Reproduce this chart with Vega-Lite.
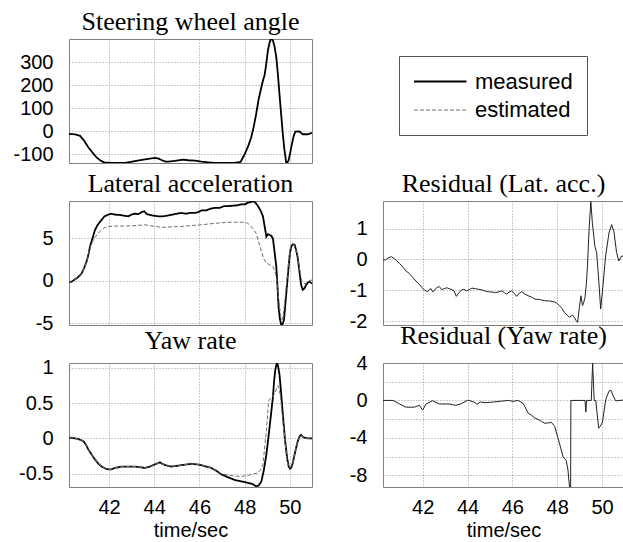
{
  "$schema": "https://vega.github.io/schema/vega-lite/v6.json",
  "padding": {"left": 12, "top": 8, "right": 0, "bottom": 0},
  "background": "white",
  "bounds": "flush",
  "columns": 2,
  "spacing": {"row": 38, "column": 71},
  "datasets": {
    "steer": [
      {"t":40.23,"v":-10,"s":"measured"},{"t":40.5,"v":-13,"s":"measured"},{"t":40.72,"v":-19,"s":"measured"},{"t":40.9,"v":-40,"s":"measured"},{"t":41.09,"v":-70,"s":"measured"},{"t":41.3,"v":-95,"s":"measured"},{"t":41.46,"v":-114,"s":"measured"},{"t":41.65,"v":-128,"s":"measured"},{"t":41.82,"v":-136,"s":"measured"},{"t":42.2,"v":-137,"s":"measured"},{"t":42.7,"v":-137,"s":"measured"},{"t":42.85,"v":-134,"s":"measured"},{"t":43.2,"v":-128,"s":"measured"},{"t":43.59,"v":-121,"s":"measured"},{"t":44.03,"v":-115,"s":"measured"},{"t":44.2,"v":-118,"s":"measured"},{"t":44.32,"v":-124,"s":"measured"},{"t":44.5,"v":-131,"s":"measured"},{"t":44.62,"v":-131,"s":"measured"},{"t":44.91,"v":-128,"s":"measured"},{"t":45.28,"v":-122,"s":"measured"},{"t":45.5,"v":-125,"s":"measured"},{"t":45.8,"v":-127,"s":"measured"},{"t":46.09,"v":-131,"s":"measured"},{"t":46.4,"v":-134,"s":"measured"},{"t":46.68,"v":-137,"s":"measured"},{"t":47.2,"v":-137,"s":"measured"},{"t":47.56,"v":-137,"s":"measured"},{"t":47.82,"v":-132,"s":"measured"},{"t":48.0,"v":-99,"s":"measured"},{"t":48.15,"v":-65,"s":"measured"},{"t":48.29,"v":-26,"s":"measured"},{"t":48.4,"v":20,"s":"measured"},{"t":48.51,"v":76,"s":"measured"},{"t":48.62,"v":140,"s":"measured"},{"t":48.74,"v":192,"s":"measured"},{"t":48.82,"v":225,"s":"measured"},{"t":48.88,"v":243,"s":"measured"},{"t":48.95,"v":290,"s":"measured"},{"t":49.03,"v":352,"s":"measured"},{"t":49.1,"v":385,"s":"measured"},{"t":49.15,"v":400,"s":"measured"},{"t":49.2,"v":402,"s":"measured"},{"t":49.25,"v":396,"s":"measured"},{"t":49.32,"v":370,"s":"measured"},{"t":49.4,"v":323,"s":"measured"},{"t":49.47,"v":250,"s":"measured"},{"t":49.54,"v":163,"s":"measured"},{"t":49.62,"v":70,"s":"measured"},{"t":49.69,"v":-12,"s":"measured"},{"t":49.76,"v":-80,"s":"measured"},{"t":49.84,"v":-135,"s":"measured"},{"t":49.9,"v":-133,"s":"measured"},{"t":49.94,"v":-128,"s":"measured"},{"t":50.0,"v":-100,"s":"measured"},{"t":50.09,"v":-55,"s":"measured"},{"t":50.17,"v":-20,"s":"measured"},{"t":50.24,"v":-1,"s":"measured"},{"t":50.43,"v":0,"s":"measured"},{"t":50.5,"v":-6,"s":"measured"},{"t":50.57,"v":-12,"s":"measured"},{"t":50.79,"v":-12,"s":"measured"},{"t":50.98,"v":-6,"s":"measured"}
    ],
    "lat": [
      {"t":40.23,"v":-0.1,"s":"measured"},{"t":40.31,"v":-0.16,"s":"measured"},{"t":40.45,"v":0.1,"s":"measured"},{"t":40.57,"v":0.3,"s":"measured"},{"t":40.7,"v":0.6,"s":"measured"},{"t":40.79,"v":0.9,"s":"measured"},{"t":40.9,"v":1.5,"s":"measured"},{"t":41.01,"v":2.3,"s":"measured"},{"t":41.1,"v":3.2,"s":"measured"},{"t":41.16,"v":4.05,"s":"measured"},{"t":41.27,"v":5.0,"s":"measured"},{"t":41.38,"v":6.0,"s":"measured"},{"t":41.5,"v":6.6,"s":"measured"},{"t":41.68,"v":7.2,"s":"measured"},{"t":41.8,"v":7.6,"s":"measured"},{"t":41.97,"v":7.8,"s":"measured"},{"t":42.1,"v":7.9,"s":"measured"},{"t":42.26,"v":7.8,"s":"measured"},{"t":42.5,"v":7.75,"s":"measured"},{"t":42.7,"v":7.65,"s":"measured"},{"t":42.85,"v":7.6,"s":"measured"},{"t":43.0,"v":7.8,"s":"measured"},{"t":43.15,"v":7.9,"s":"measured"},{"t":43.3,"v":7.85,"s":"measured"},{"t":43.45,"v":8.1,"s":"measured"},{"t":43.56,"v":8.2,"s":"measured"},{"t":43.65,"v":7.9,"s":"measured"},{"t":43.74,"v":7.8,"s":"measured"},{"t":43.9,"v":7.7,"s":"measured"},{"t":44.18,"v":7.6,"s":"measured"},{"t":44.4,"v":7.6,"s":"measured"},{"t":44.62,"v":7.7,"s":"measured"},{"t":44.9,"v":7.85,"s":"measured"},{"t":45.2,"v":8.0,"s":"measured"},{"t":45.4,"v":7.9,"s":"measured"},{"t":45.6,"v":8.0,"s":"measured"},{"t":45.8,"v":8.0,"s":"measured"},{"t":45.95,"v":8.1,"s":"measured"},{"t":46.09,"v":8.3,"s":"measured"},{"t":46.3,"v":8.3,"s":"measured"},{"t":46.5,"v":8.5,"s":"measured"},{"t":46.68,"v":8.6,"s":"measured"},{"t":46.9,"v":8.6,"s":"measured"},{"t":47.1,"v":8.8,"s":"measured"},{"t":47.26,"v":8.8,"s":"measured"},{"t":47.5,"v":8.85,"s":"measured"},{"t":47.7,"v":8.9,"s":"measured"},{"t":47.85,"v":9.0,"s":"measured"},{"t":48.0,"v":9.0,"s":"measured"},{"t":48.15,"v":9.2,"s":"measured"},{"t":48.3,"v":9.3,"s":"measured"},{"t":48.37,"v":9.4,"s":"measured"},{"t":48.48,"v":9.2,"s":"measured"},{"t":48.59,"v":8.8,"s":"measured"},{"t":48.7,"v":8.3,"s":"measured"},{"t":48.81,"v":7.6,"s":"measured"},{"t":48.88,"v":6.5,"s":"measured"},{"t":48.96,"v":5.2,"s":"measured"},{"t":49.03,"v":5.5,"s":"measured"},{"t":49.1,"v":5.4,"s":"measured"},{"t":49.18,"v":5.3,"s":"measured"},{"t":49.25,"v":5.0,"s":"measured"},{"t":49.32,"v":3.5,"s":"measured"},{"t":49.4,"v":1.7,"s":"measured"},{"t":49.45,"v":-0.5,"s":"measured"},{"t":49.5,"v":-3.0,"s":"measured"},{"t":49.56,"v":-4.5,"s":"measured"},{"t":49.62,"v":-5.2,"s":"measured"},{"t":49.68,"v":-5.1,"s":"measured"},{"t":49.74,"v":-4.6,"s":"measured"},{"t":49.8,"v":-2.8,"s":"measured"},{"t":49.88,"v":-0.3,"s":"measured"},{"t":49.95,"v":1.8,"s":"measured"},{"t":50.0,"v":3.2,"s":"measured"},{"t":50.06,"v":4.05,"s":"measured"},{"t":50.13,"v":4.3,"s":"measured"},{"t":50.21,"v":4.25,"s":"measured"},{"t":50.28,"v":3.6,"s":"measured"},{"t":50.35,"v":2.7,"s":"measured"},{"t":50.43,"v":1.0,"s":"measured"},{"t":50.5,"v":-0.5,"s":"measured"},{"t":50.57,"v":-1.06,"s":"measured"},{"t":50.64,"v":-0.9,"s":"measured"},{"t":50.72,"v":-0.5,"s":"measured"},{"t":50.8,"v":-0.2,"s":"measured"},{"t":50.87,"v":-0.1,"s":"measured"},{"t":50.98,"v":-0.3,"s":"measured"},
      {"t":40.23,"v":-0.1,"s":"estimated"},{"t":40.31,"v":-0.16,"s":"estimated"},{"t":40.45,"v":0.1,"s":"estimated"},{"t":40.57,"v":0.3,"s":"estimated"},{"t":40.7,"v":0.6,"s":"estimated"},{"t":40.79,"v":0.9,"s":"estimated"},{"t":40.9,"v":1.5,"s":"estimated"},{"t":41.01,"v":2.3,"s":"estimated"},{"t":41.1,"v":3.2,"s":"estimated"},{"t":41.16,"v":3.9,"s":"estimated"},{"t":41.24,"v":4.45,"s":"estimated"},{"t":41.35,"v":5.0,"s":"estimated"},{"t":41.46,"v":5.4,"s":"estimated"},{"t":41.57,"v":5.75,"s":"estimated"},{"t":41.68,"v":6.0,"s":"estimated"},{"t":41.8,"v":6.25,"s":"estimated"},{"t":41.97,"v":6.4,"s":"estimated"},{"t":42.3,"v":6.45,"s":"estimated"},{"t":42.7,"v":6.45,"s":"estimated"},{"t":43.15,"v":6.5,"s":"estimated"},{"t":43.59,"v":6.6,"s":"estimated"},{"t":43.9,"v":6.45,"s":"estimated"},{"t":44.32,"v":6.3,"s":"estimated"},{"t":44.7,"v":6.35,"s":"estimated"},{"t":45.2,"v":6.4,"s":"estimated"},{"t":45.6,"v":6.5,"s":"estimated"},{"t":46.09,"v":6.6,"s":"estimated"},{"t":46.6,"v":6.75,"s":"estimated"},{"t":47.26,"v":6.9,"s":"estimated"},{"t":47.7,"v":6.9,"s":"estimated"},{"t":48.0,"v":6.9,"s":"estimated"},{"t":48.12,"v":6.8,"s":"estimated"},{"t":48.22,"v":6.6,"s":"estimated"},{"t":48.35,"v":6.2,"s":"estimated"},{"t":48.51,"v":5.6,"s":"estimated"},{"t":48.62,"v":4.6,"s":"estimated"},{"t":48.74,"v":3.5,"s":"estimated"},{"t":48.85,"v":2.6,"s":"estimated"},{"t":48.96,"v":2.1,"s":"estimated"},{"t":49.1,"v":1.9,"s":"estimated"},{"t":49.25,"v":1.7,"s":"estimated"},{"t":49.33,"v":1.2,"s":"estimated"},{"t":49.4,"v":0.5,"s":"estimated"},{"t":49.47,"v":-1.2,"s":"estimated"},{"t":49.54,"v":-3.0,"s":"estimated"},{"t":49.6,"v":-4.2,"s":"estimated"},{"t":49.66,"v":-4.6,"s":"estimated"},{"t":49.72,"v":-3.8,"s":"estimated"},{"t":49.78,"v":-2.3,"s":"estimated"},{"t":49.84,"v":-0.7,"s":"estimated"},{"t":49.93,"v":1.8,"s":"estimated"},{"t":50.03,"v":4.05,"s":"estimated"},{"t":50.1,"v":4.3,"s":"estimated"},{"t":50.18,"v":4.25,"s":"estimated"},{"t":50.26,"v":3.7,"s":"estimated"},{"t":50.35,"v":2.9,"s":"estimated"},{"t":50.45,"v":1.0,"s":"estimated"},{"t":50.54,"v":-0.1,"s":"estimated"},{"t":50.62,"v":-0.35,"s":"estimated"},{"t":50.72,"v":-0.3,"s":"estimated"},{"t":50.85,"v":0.0,"s":"estimated"},{"t":50.98,"v":0.1,"s":"estimated"}
    ],
    "yaw": [
      {"t":40.23,"v":0.0,"s":"measured"},{"t":40.31,"v":0.01,"s":"measured"},{"t":40.5,"v":0.0,"s":"measured"},{"t":40.65,"v":-0.01,"s":"measured"},{"t":40.87,"v":-0.04,"s":"measured"},{"t":40.98,"v":-0.09,"s":"measured"},{"t":41.09,"v":-0.16,"s":"measured"},{"t":41.23,"v":-0.23,"s":"measured"},{"t":41.38,"v":-0.3,"s":"measured"},{"t":41.53,"v":-0.36,"s":"measured"},{"t":41.68,"v":-0.4,"s":"measured"},{"t":41.85,"v":-0.43,"s":"measured"},{"t":41.97,"v":-0.44,"s":"measured"},{"t":42.1,"v":-0.44,"s":"measured"},{"t":42.26,"v":-0.42,"s":"measured"},{"t":42.56,"v":-0.4,"s":"measured"},{"t":42.9,"v":-0.4,"s":"measured"},{"t":43.15,"v":-0.4,"s":"measured"},{"t":43.4,"v":-0.41,"s":"measured"},{"t":43.59,"v":-0.42,"s":"measured"},{"t":43.8,"v":-0.4,"s":"measured"},{"t":44.03,"v":-0.37,"s":"measured"},{"t":44.25,"v":-0.34,"s":"measured"},{"t":44.47,"v":-0.38,"s":"measured"},{"t":44.76,"v":-0.4,"s":"measured"},{"t":45.0,"v":-0.39,"s":"measured"},{"t":45.2,"v":-0.38,"s":"measured"},{"t":45.45,"v":-0.37,"s":"measured"},{"t":45.65,"v":-0.36,"s":"measured"},{"t":45.9,"v":-0.37,"s":"measured"},{"t":46.09,"v":-0.38,"s":"measured"},{"t":46.3,"v":-0.4,"s":"measured"},{"t":46.53,"v":-0.42,"s":"measured"},{"t":46.75,"v":-0.46,"s":"measured"},{"t":46.97,"v":-0.51,"s":"measured"},{"t":47.25,"v":-0.55,"s":"measured"},{"t":47.56,"v":-0.59,"s":"measured"},{"t":47.85,"v":-0.61,"s":"measured"},{"t":48.15,"v":-0.63,"s":"measured"},{"t":48.35,"v":-0.65,"s":"measured"},{"t":48.51,"v":-0.68,"s":"measured"},{"t":48.62,"v":-0.67,"s":"measured"},{"t":48.74,"v":-0.61,"s":"measured"},{"t":48.85,"v":-0.45,"s":"measured"},{"t":48.96,"v":-0.23,"s":"measured"},{"t":49.03,"v":-0.05,"s":"measured"},{"t":49.1,"v":0.15,"s":"measured"},{"t":49.18,"v":0.38,"s":"measured"},{"t":49.25,"v":0.58,"s":"measured"},{"t":49.3,"v":0.8,"s":"measured"},{"t":49.35,"v":0.96,"s":"measured"},{"t":49.4,"v":1.04,"s":"measured"},{"t":49.44,"v":1.07,"s":"measured"},{"t":49.48,"v":1.02,"s":"measured"},{"t":49.54,"v":0.91,"s":"measured"},{"t":49.6,"v":0.7,"s":"measured"},{"t":49.69,"v":0.34,"s":"measured"},{"t":49.78,"v":0.0,"s":"measured"},{"t":49.88,"v":-0.28,"s":"measured"},{"t":49.95,"v":-0.4,"s":"measured"},{"t":50.01,"v":-0.43,"s":"measured"},{"t":50.07,"v":-0.41,"s":"measured"},{"t":50.13,"v":-0.35,"s":"measured"},{"t":50.25,"v":-0.17,"s":"measured"},{"t":50.35,"v":-0.04,"s":"measured"},{"t":50.43,"v":0.03,"s":"measured"},{"t":50.5,"v":0.05,"s":"measured"},{"t":50.58,"v":0.02,"s":"measured"},{"t":50.65,"v":0.01,"s":"measured"},{"t":50.8,"v":0.0,"s":"measured"},{"t":50.98,"v":0.0,"s":"measured"},
      {"t":40.23,"v":0.0,"s":"estimated"},{"t":40.31,"v":0.01,"s":"estimated"},{"t":40.5,"v":0.0,"s":"estimated"},{"t":40.65,"v":-0.01,"s":"estimated"},{"t":40.87,"v":-0.04,"s":"estimated"},{"t":40.98,"v":-0.09,"s":"estimated"},{"t":41.09,"v":-0.16,"s":"estimated"},{"t":41.23,"v":-0.23,"s":"estimated"},{"t":41.38,"v":-0.3,"s":"estimated"},{"t":41.53,"v":-0.36,"s":"estimated"},{"t":41.68,"v":-0.4,"s":"estimated"},{"t":41.85,"v":-0.43,"s":"estimated"},{"t":41.97,"v":-0.44,"s":"estimated"},{"t":42.1,"v":-0.44,"s":"estimated"},{"t":42.26,"v":-0.42,"s":"estimated"},{"t":42.56,"v":-0.4,"s":"estimated"},{"t":42.9,"v":-0.4,"s":"estimated"},{"t":43.15,"v":-0.4,"s":"estimated"},{"t":43.4,"v":-0.41,"s":"estimated"},{"t":43.59,"v":-0.42,"s":"estimated"},{"t":43.8,"v":-0.4,"s":"estimated"},{"t":44.03,"v":-0.37,"s":"estimated"},{"t":44.25,"v":-0.34,"s":"estimated"},{"t":44.47,"v":-0.38,"s":"estimated"},{"t":44.76,"v":-0.4,"s":"estimated"},{"t":45.0,"v":-0.39,"s":"estimated"},{"t":45.2,"v":-0.38,"s":"estimated"},{"t":45.45,"v":-0.37,"s":"estimated"},{"t":45.65,"v":-0.36,"s":"estimated"},{"t":45.9,"v":-0.37,"s":"estimated"},{"t":46.09,"v":-0.38,"s":"estimated"},{"t":46.3,"v":-0.4,"s":"estimated"},{"t":46.53,"v":-0.42,"s":"estimated"},{"t":46.75,"v":-0.46,"s":"estimated"},{"t":46.97,"v":-0.5,"s":"estimated"},{"t":47.26,"v":-0.52,"s":"estimated"},{"t":47.56,"v":-0.535,"s":"estimated"},{"t":47.85,"v":-0.54,"s":"estimated"},{"t":48.1,"v":-0.53,"s":"estimated"},{"t":48.29,"v":-0.51,"s":"estimated"},{"t":48.45,"v":-0.5,"s":"estimated"},{"t":48.59,"v":-0.49,"s":"estimated"},{"t":48.7,"v":-0.45,"s":"estimated"},{"t":48.81,"v":-0.37,"s":"estimated"},{"t":48.88,"v":-0.15,"s":"estimated"},{"t":48.96,"v":0.1,"s":"estimated"},{"t":49.02,"v":0.35,"s":"estimated"},{"t":49.06,"v":0.53,"s":"estimated"},{"t":49.14,"v":0.57,"s":"estimated"},{"t":49.21,"v":0.58,"s":"estimated"},{"t":49.32,"v":0.63,"s":"estimated"},{"t":49.4,"v":0.7,"s":"estimated"},{"t":49.47,"v":0.75,"s":"estimated"},{"t":49.53,"v":0.7,"s":"estimated"},{"t":49.59,"v":0.58,"s":"estimated"},{"t":49.66,"v":0.35,"s":"estimated"},{"t":49.74,"v":0.1,"s":"estimated"},{"t":49.81,"v":-0.12,"s":"estimated"},{"t":49.88,"v":-0.32,"s":"estimated"},{"t":49.94,"v":-0.4,"s":"estimated"},{"t":49.99,"v":-0.42,"s":"estimated"},{"t":50.06,"v":-0.4,"s":"estimated"},{"t":50.13,"v":-0.35,"s":"estimated"},{"t":50.25,"v":-0.17,"s":"estimated"},{"t":50.35,"v":-0.04,"s":"estimated"},{"t":50.43,"v":0.03,"s":"estimated"},{"t":50.5,"v":0.05,"s":"estimated"},{"t":50.58,"v":0.02,"s":"estimated"},{"t":50.65,"v":0.01,"s":"estimated"},{"t":50.8,"v":0.0,"s":"estimated"},{"t":50.98,"v":0.0,"s":"estimated"}
    ],
    "rlat": [
      {"t":40.23,"v":0.0},{"t":40.34,"v":-0.02},{"t":40.46,"v":0.05},{"t":40.6,"v":0.09},{"t":40.75,"v":0.02},{"t":40.97,"v":-0.13},{"t":41.12,"v":-0.25},{"t":41.26,"v":-0.38},{"t":41.4,"v":-0.45},{"t":41.56,"v":-0.59},{"t":41.7,"v":-0.7},{"t":41.85,"v":-0.81},{"t":41.95,"v":-0.9},{"t":42.07,"v":-0.99},{"t":42.22,"v":-1.05},{"t":42.3,"v":-0.97},{"t":42.37,"v":-0.95},{"t":42.45,"v":-1.05},{"t":42.51,"v":-1.02},{"t":42.62,"v":-0.92},{"t":42.74,"v":-0.88},{"t":42.85,"v":-0.98},{"t":42.96,"v":-0.95},{"t":43.08,"v":-0.92},{"t":43.18,"v":-0.95},{"t":43.3,"v":-0.98},{"t":43.4,"v":-1.02},{"t":43.5,"v":-1.2},{"t":43.62,"v":-1.08},{"t":43.72,"v":-1.0},{"t":43.84,"v":-0.97},{"t":43.95,"v":-1.02},{"t":44.06,"v":-0.99},{"t":44.2,"v":-0.93},{"t":44.35,"v":-0.95},{"t":44.5,"v":-0.97},{"t":44.65,"v":-0.99},{"t":44.8,"v":-1.03},{"t":44.94,"v":-1.05},{"t":45.1,"v":-1.06},{"t":45.24,"v":-1.08},{"t":45.4,"v":-1.05},{"t":45.53,"v":-1.02},{"t":45.65,"v":-1.08},{"t":45.75,"v":-1.13},{"t":45.85,"v":-1.06},{"t":45.97,"v":-1.02},{"t":46.08,"v":-1.1},{"t":46.19,"v":-1.2},{"t":46.3,"v":-1.1},{"t":46.41,"v":-1.05},{"t":46.55,"v":-1.12},{"t":46.71,"v":-1.18},{"t":46.85,"v":-1.22},{"t":47.0,"v":-1.29},{"t":47.2,"v":-1.3},{"t":47.44,"v":-1.34},{"t":47.65,"v":-1.35},{"t":47.88,"v":-1.38},{"t":48.0,"v":-1.43},{"t":48.1,"v":-1.5},{"t":48.22,"v":-1.6},{"t":48.32,"v":-1.72},{"t":48.44,"v":-1.8},{"t":48.54,"v":-1.88},{"t":48.62,"v":-1.84},{"t":48.69,"v":-1.81},{"t":48.78,"v":-1.9},{"t":48.84,"v":-1.99},{"t":48.91,"v":-2.04},{"t":48.99,"v":-1.56},{"t":49.06,"v":-1.18},{"t":49.13,"v":-1.5},{"t":49.18,"v":-1.4},{"t":49.24,"v":-1.24},{"t":49.3,"v":-0.8},{"t":49.35,"v":-0.22},{"t":49.43,"v":1.08},{"t":49.5,"v":1.88},{"t":49.57,"v":1.18},{"t":49.68,"v":0.43},{"t":49.76,"v":0.22},{"t":49.84,"v":-0.54},{"t":49.94,"v":-1.61},{"t":50.04,"v":-0.86},{"t":50.16,"v":0.11},{"t":50.31,"v":0.86},{"t":50.43,"v":1.13},{"t":50.53,"v":0.91},{"t":50.65,"v":0.22},{"t":50.75,"v":-0.05},{"t":50.87,"v":0.11},{"t":50.98,"v":0.1}
    ],
    "ryaw": [
      {"t":40.23,"v":0.0},{"t":40.68,"v":0.0},{"t":40.97,"v":-0.38},{"t":41.26,"v":-0.72},{"t":41.63,"v":-0.72},{"t":41.85,"v":-0.52},{"t":42.0,"v":-1.03},{"t":42.15,"v":-0.38},{"t":42.44,"v":-0.03},{"t":42.74,"v":-0.38},{"t":43.18,"v":-0.38},{"t":43.47,"v":-0.52},{"t":43.69,"v":-0.38},{"t":43.99,"v":0.0},{"t":44.06,"v":0.0},{"t":44.28,"v":-0.17},{"t":44.43,"v":-0.41},{"t":44.57,"v":-0.17},{"t":44.79,"v":-0.24},{"t":45.16,"v":-0.17},{"t":45.53,"v":-0.07},{"t":45.82,"v":0.0},{"t":46.04,"v":-0.1},{"t":46.26,"v":0.0},{"t":46.49,"v":-0.34},{"t":46.71,"v":-1.37},{"t":46.86,"v":-1.59},{"t":47.0,"v":-1.88},{"t":47.15,"v":-2.03},{"t":47.29,"v":-2.22},{"t":47.44,"v":-2.44},{"t":47.6,"v":-2.4},{"t":47.74,"v":-2.34},{"t":47.89,"v":-2.78},{"t":48.03,"v":-3.99},{"t":48.15,"v":-5.0},{"t":48.26,"v":-6.05},{"t":48.4,"v":-6.4},{"t":48.48,"v":-7.42},{"t":48.55,"v":-9.25},{"t":48.6,"v":-9.25},{"t":48.61,"v":0.0},{"t":49.24,"v":0.0},{"t":49.28,"v":-1.24},{"t":49.31,"v":0.0},{"t":49.52,"v":0.0},{"t":49.58,"v":4.0},{"t":49.65,"v":0.0},{"t":49.72,"v":0.0},{"t":49.85,"v":-2.96},{"t":49.92,"v":-2.8},{"t":50.02,"v":-2.3},{"t":50.17,"v":0.13},{"t":50.31,"v":1.0},{"t":50.39,"v":1.1},{"t":50.5,"v":0.47},{"t":50.61,"v":-0.04},{"t":50.8,"v":0.0},{"t":50.98,"v":0.05}
    ]
  },
  "concat": [
    {
      "title": "Steering wheel angle",
      "width": 243,
      "height": 124,
      "data": {"name": "steer"},
      "mark": {"type": "line", "clip": true, "color": "#000000", "strokeWidth": 1.8},
      "encoding": {
        "x": {"field": "t", "type": "quantitative", "scale": {"domain": [40.23, 50.98], "nice": false, "zero": false}, "axis": {"values": [42, 44, 46, 48, 50], "labels": false, "title": null}},
        "y": {"field": "v", "type": "quantitative", "scale": {"domain": [-137, 402], "nice": false, "zero": false}, "axis": {"values": [-100, 0, 100, 200, 300], "labelExpr": "toString(datum.value)", "title": null}}
      }
    },
    {
      "width": 241,
      "height": 124,
      "data": {"name": "yaw"},
      "transform": [{"filter": "datum.t > 1000"}],
      "mark": {"type": "line", "clip": true},
      "view": {"stroke": null},
      "encoding": {
        "x": {"field": "t", "type": "quantitative", "scale": {"domain": [40.23, 50.98]}, "axis": null},
        "y": {"field": "v", "type": "quantitative", "scale": {"domain": [0, 1]}, "axis": null},
        "color": {"field": "s", "type": "nominal", "scale": {"domain": ["measured", "estimated"], "range": ["#000000", "#707070"]},
          "legend": {"orient": "none", "legendX": 16, "legendY": 17, "title": null, "symbolType": "M-1,0H4", "symbolSize": 441, "labelFont": "Liberation Sans", "labelFontSize": 22, "labelColor": "#000", "labelOffset": 39, "padding": 14, "rowPadding": 6, "strokeColor": "#555", "fillColor": "white"}},
        "strokeDash": {"field": "s", "type": "nominal", "scale": {"domain": ["measured", "estimated"], "range": [[1, 0], [4, 2]]},
          "legend": {"orient": "none", "legendX": 16, "legendY": 17, "title": null, "symbolType": "M-1,0H4", "symbolSize": 441, "labelFont": "Liberation Sans", "labelFontSize": 22, "labelColor": "#000", "labelOffset": 39, "padding": 14, "rowPadding": 6, "strokeColor": "#555", "fillColor": "white"}},
        "strokeWidth": {"field": "s", "type": "nominal", "scale": {"domain": ["measured", "estimated"], "range": [1.8, 1]},
          "legend": {"orient": "none", "legendX": 16, "legendY": 17, "title": null, "symbolType": "M-1,0H4", "symbolSize": 441, "labelFont": "Liberation Sans", "labelFontSize": 22, "labelColor": "#000", "labelOffset": 39, "padding": 14, "rowPadding": 6, "strokeColor": "#555", "fillColor": "white"}}
      }
    },
    {
      "title": "Lateral acceleration",
      "width": 243,
      "height": 124,
      "data": {"name": "lat"},
      "mark": {"type": "line", "clip": true},
      "encoding": {
        "x": {"field": "t", "type": "quantitative", "scale": {"domain": [40.23, 50.98], "nice": false, "zero": false}, "axis": {"values": [42, 44, 46, 48, 50], "labels": false, "title": null}},
        "y": {"field": "v", "type": "quantitative", "scale": {"domain": [-5.2, 9.4], "nice": false, "zero": false}, "axis": {"values": [-5, 0, 5], "labelExpr": "toString(datum.value)", "title": null}},
        "color": {"field": "s", "type": "nominal", "scale": {"domain": ["measured", "estimated"], "range": ["#000000", "#707070"]}, "legend": null},
        "strokeDash": {"field": "s", "type": "nominal", "scale": {"domain": ["measured", "estimated"], "range": [[1, 0], [4, 2]]}, "legend": null},
        "strokeWidth": {"field": "s", "type": "nominal", "scale": {"domain": ["measured", "estimated"], "range": [1.8, 1]}, "legend": null}
      }
    },
    {
      "title": "Residual (Lat. acc.)",
      "width": 241,
      "height": 124,
      "data": {"name": "rlat"},
      "mark": {"type": "line", "clip": true, "color": "#222222", "strokeWidth": 1},
      "encoding": {
        "x": {"field": "t", "type": "quantitative", "scale": {"domain": [40.23, 50.98], "nice": false, "zero": false}, "axis": {"values": [42, 44, 46, 48, 50], "labels": false, "title": null}},
        "y": {"field": "v", "type": "quantitative", "scale": {"domain": [-2.13, 1.9], "nice": false, "zero": false}, "axis": {"values": [-2, -1, 0, 1], "labelExpr": "toString(datum.value)", "title": null}}
      }
    },
    {
      "title": "Yaw rate",
      "width": 243,
      "height": 124,
      "data": {"name": "yaw"},
      "mark": {"type": "line", "clip": true},
      "encoding": {
        "x": {"field": "t", "type": "quantitative", "scale": {"domain": [40.23, 50.98], "nice": false, "zero": false}, "axis": {"values": [42, 44, 46, 48, 50], "title": "time/sec", "labelPadding": 10, "titlePadding": 3}},
        "y": {"field": "v", "type": "quantitative", "scale": {"domain": [-0.69, 1.07], "nice": false, "zero": false}, "axis": {"values": [-0.5, 0, 0.5, 1], "labelExpr": "toString(datum.value)", "title": null}},
        "color": {"field": "s", "type": "nominal", "scale": {"domain": ["measured", "estimated"], "range": ["#000000", "#707070"]}, "legend": null},
        "strokeDash": {"field": "s", "type": "nominal", "scale": {"domain": ["measured", "estimated"], "range": [[1, 0], [4, 2]]}, "legend": null},
        "strokeWidth": {"field": "s", "type": "nominal", "scale": {"domain": ["measured", "estimated"], "range": [1.8, 1]}, "legend": null}
      }
    },
    {
      "title": "Residual (Yaw rate)",
      "width": 241,
      "height": 124,
      "data": {"name": "ryaw"},
      "mark": {"type": "line", "clip": true, "color": "#222222", "strokeWidth": 1},
      "encoding": {
        "x": {"field": "t", "type": "quantitative", "scale": {"domain": [40.23, 50.98], "nice": false, "zero": false}, "axis": {"values": [42, 44, 46, 48, 50], "title": "time/sec", "labelPadding": 10, "titlePadding": 3}},
        "y": {"field": "v", "type": "quantitative", "scale": {"domain": [-9.25, 4], "nice": false, "zero": false}, "axis": {"values": [-8, -6, -4, -2, 0, 2, 4], "labelExpr": "datum.value % 4 === 0 ? toString(datum.value) : ''", "title": null}}
      }
    }
  ],
  "resolve": {"legend": {"color": "independent", "strokeDash": "independent", "strokeWidth": "independent"}},
  "config": {
    "font": "Liberation Sans",
    "view": {"stroke": "#808080", "strokeWidth": 1},
    "axis": {"domain": false, "ticks": false, "labelFont": "Liberation Sans", "labelFontSize": 20, "labelColor": "#000000", "labelPadding": 16, "grid": true, "gridColor": "#999999", "gridDash": [1, 2], "gridWidth": 1, "gridOpacity": 1, "titleFont": "Liberation Sans", "titleFontSize": 20, "titleFontWeight": "normal", "titleColor": "#000000"},
    "title": {"font": "Liberation Serif", "fontSize": 26, "fontWeight": "normal", "color": "#000000", "offset": 4, "anchor": "middle"}
  }
}
